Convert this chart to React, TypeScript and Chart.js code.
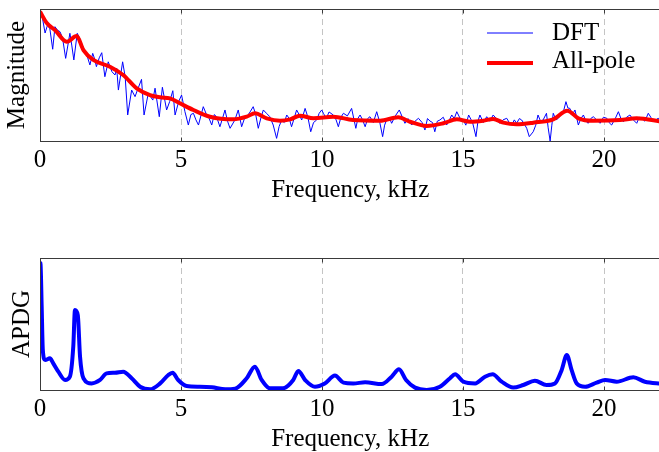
import { useEffect, useRef } from "react";
import { Chart, registerables } from "chart.js";

Chart.register(...registerables);

const xTicks = [0, 5, 10, 15, 20];
const xMin = 0;
const xMax = 22;

// DFT magnitude (arbitrary units, 0..100)
const dftFreq = [
  0.0, 0.08, 0.18, 0.27, 0.35, 0.45, 0.53, 0.62, 0.71, 0.8, 0.91, 1.06, 1.13, 1.2, 1.32, 1.4, 1.52, 1.66, 1.77, 1.87,
  1.94, 2.0, 2.1, 2.19, 2.3, 2.42, 2.55, 2.66, 2.72, 2.78, 2.93, 3.02, 3.11, 3.25, 3.37, 3.48, 3.6, 3.69, 3.84, 4.0,
  4.08, 4.23, 4.34, 4.49, 4.6, 4.71, 4.79, 4.92, 5.02, 5.14, 5.26, 5.35, 5.44, 5.53, 5.62, 5.79, 5.91, 6.0, 6.09, 6.18,
  6.26, 6.38, 6.47, 6.56, 6.65, 6.74, 6.91, 7.03, 7.15, 7.25, 7.33, 7.45, 7.56, 7.65, 7.74, 7.84, 7.92, 8.03, 8.15, 8.27,
  8.39, 8.48, 8.57, 8.66, 8.75, 8.84, 8.92, 9.01, 9.1, 9.19, 9.28, 9.4, 9.5, 9.6, 9.7, 9.81, 9.9, 9.99, 10.05, 10.15,
  10.25, 10.4, 10.5, 10.58, 10.67, 10.76, 10.9, 11.05, 11.2, 11.27, 11.35, 11.44, 11.53, 11.62, 11.7, 11.82, 11.94, 12.05, 12.15, 12.22,
  12.29, 12.38, 12.47, 12.6, 12.74, 12.85, 12.94, 13.05, 13.18, 13.3, 13.42, 13.55, 13.65, 13.74, 13.83, 13.92, 14.0, 14.09, 14.18, 14.3,
  14.42, 14.52, 14.6, 14.69, 14.78, 14.9, 15.01, 15.1, 15.2, 15.34, 15.46, 15.53, 15.6, 15.72, 15.84, 15.95, 16.07, 16.18, 16.3, 16.42,
  16.55, 16.64, 16.73, 16.82, 16.9, 17.0, 17.08, 17.17, 17.26, 17.35, 17.49, 17.58, 17.66, 17.75, 17.84, 17.96, 18.02, 18.09, 18.15, 18.2,
  18.3, 18.38, 18.48, 18.56, 18.65, 18.72, 18.79, 18.88, 18.97, 19.09, 19.18, 19.27, 19.36, 19.44, 19.53, 19.62, 19.74, 19.86, 19.98, 20.1,
  20.18, 20.27, 20.4, 20.51, 20.6, 20.69, 20.8, 20.92, 21.04, 21.16, 21.25, 21.33, 21.45, 21.57, 21.66, 21.74, 21.84, 21.92, 22.05,
];
const dftMag = [
  99, 94, 81.8, 88, 85, 69.5, 86.6, 84, 82.8, 78, 62.6, 81.6, 72, 61.4, 81.6, 78, 71.4, 65.2, 57.6, 66.4,
  62, 56.3, 63, 66.9, 48.7, 60, 52.5, 50, 55, 38.6, 60, 48.7, 19.7, 38.6, 33.6, 40, 46.7, 19.7, 36.1, 31,
  40, 18.4, 40.7, 23.5, 30, 38.1, 19.7, 30, 34.8, 22.2, 12.1, 20, 21, 16, 12.1, 26, 19.7, 17, 12.1, 20,
  18.4, 10.8, 17, 23.5, 15, 9.6, 15.9, 23.5, 10.8, 17, 18.4, 22, 26, 20, 9.6, 18, 23.5, 21, 18.4, 12.1,
  2, 11, 15.9, 14, 19.7, 17, 10.8, 17, 23.5, 20, 15.9, 24.7, 18, 7, 14, 15.9, 21, 23.5, 21, 17,
  22, 19.7, 16, 10.8, 18, 21, 19, 24.7, 9.6, 17, 19.7, 16, 10.8, 17, 18.4, 14, 22.2, 14, 3.3, 12,
  15.9, 18, 13.4, 19, 23.5, 18, 13.4, 17, 12.1, 15, 17.2, 14, 8.3, 17, 15.1, 14, 7, 15, 15.9, 18,
  12.1, 16, 19.7, 17, 22.2, 17, 15.9, 12, 19.7, 14, 3.3, 15, 19.7, 14, 18.4, 15, 19.7, 17, 13.4, 16,
  17.2, 14, 12.1, 16, 13.4, 17, 15.9, 13, 9.6, 3.3, 7, 12, 19.7, 15, 15.9, 21, 10, 0, 12, 21,
  16, 17.2, 20, 22.2, 29.8, 25, 24.7, 20, 23.5, 12.1, 17, 19.7, 15, 13.4, 17, 18.4, 16, 13.4, 18, 17.2,
  14, 12.1, 17, 22.2, 17, 14.6, 18, 19.7, 16, 13.4, 18, 17.2, 15, 21, 18, 14.6, 16, 17.2, 15,
];

// All-pole envelope
const poleFreq = [
  0, 0.24, 0.53, 0.95, 1.3, 1.54, 1.89, 2.48, 2.95, 3.43, 3.9, 4.26, 4.61, 4.96, 5.44, 6.03, 6.85, 7.33, 7.62, 8.04,
  8.51, 8.87, 9.22, 9.7, 10.4, 11.1, 12.06, 12.7, 13.12, 13.71, 14.3, 14.78, 15.25, 15.72, 16.07, 16.43, 16.9, 17.49, 18.2, 18.7,
  19.09, 19.62, 20.57, 21.16, 22.05,
];
const poleMag = [
  98, 89.4, 84.1, 75.2, 79.5, 68.9, 61.4, 56.3, 50, 39.9, 34.8, 33.1, 32.3, 28.6, 23.5, 18.4, 16.4, 18.4, 21, 17.2,
  15.4, 16.4, 19.2, 17.2, 18.4, 15.9, 15.4, 18, 14.6, 11.4, 13.4, 16.4, 14.6, 15.4, 16.7, 13.9, 12.7, 13.9, 16.4, 23,
  17.2, 15.4, 15.9, 17.2, 14.6,
];

// APDG
const apdgFreq = [
  0, 0.02, 0.06, 0.1, 0.18, 0.35, 0.47, 0.65, 0.89, 1.06, 1.18, 1.24, 1.34, 1.42, 1.54, 1.83, 2.13, 2.36, 2.66, 2.95,
  3.25, 3.55, 3.9, 4.26, 4.55, 4.7, 4.9, 5.2, 5.67, 6.1, 6.57, 6.92, 7.33, 7.62, 7.86, 8.15, 8.62, 8.98, 9.16, 9.4,
  9.75, 10.1, 10.46, 10.76, 11.11, 11.53, 12.12, 12.47, 12.73, 12.98, 13.3, 13.71, 14.18, 14.54, 14.72, 15.01, 15.43, 15.78, 16.05, 16.37,
  16.78, 17.14, 17.55, 17.96, 18.26, 18.5, 18.68, 18.85, 19.03, 19.33, 19.74, 20.04, 20.45, 21.04, 21.45, 22.05,
];
const apdgVal = [
  97, 95, 63, 30.3, 22.7, 24, 20.2, 13.9, 7.6, 10.1, 32.8, 60.6, 56.8, 25.2, 8.9, 5, 7.6, 12.6, 13.1, 13.9,
  8.9, 2.5, 0.5, 5, 11.4, 13.1, 7.6, 3, 2.5, 2, 0.5, 1, 8.9, 17.7, 7.6, 1.3, 1.3, 7.6, 14.4, 7.6,
  2.5, 5, 10.9, 5.6, 5, 5.8, 4.5, 10.1, 15.7, 7.6, 1.8, 0, 2.5, 8.9, 11.9, 6.3, 5, 10.1, 11.9, 6.3,
  1.8, 3.8, 7, 3.8, 5, 15.2, 26.5, 15.2, 5, 2.5, 5.6, 7.6, 6.3, 9.6, 6.3, 4.8,
];

const FONT = '"Liberation Serif", "Times New Roman", serif';
const FSIZE = 25;
Chart.defaults.font.family = FONT;
Chart.defaults.font.size = FSIZE;
Chart.defaults.color = "#000";

const pts = (xs: number[], ys: number[]) => xs.map((x, i) => ({ x, y: ys[i] }));

const framePlugin = {
  id: "frame",
  afterDraw(chart: any) {
    const { ctx, chartArea: a, scales } = chart;
    const l = Math.round(a.left) + 0.5;
    const t = Math.round(a.top) + 0.5;
    const r = Math.round(a.right) + 0.5;
    const b = Math.round(a.bottom) + 0.5;
    ctx.save();
    ctx.strokeStyle = "#3a3a3a";
    ctx.lineWidth = 1;
    ctx.strokeRect(l, t, r - l, b - t);
    const xs = scales.x;
    ctx.beginPath();
    xs.ticks.forEach((tk: any) => {
      const p = Math.round(xs.getPixelForValue(tk.value)) + 0.5;
      ctx.moveTo(p, b);
      ctx.lineTo(p, b - 4);
      ctx.moveTo(p, t);
      ctx.lineTo(p, t + 4);
    });
    ctx.stroke();
    ctx.restore();
  },
};

const legendPlugin = {
  id: "customLegend",
  afterDraw(chart: any) {
    const { ctx } = chart;
    const ds = chart.data.datasets;
    const rows = [
      { d: ds[0], y: 40, ly: 33 },
      { d: ds[1], y: 68, ly: 63 },
    ];
    ctx.save();
    rows.forEach((row) => {
      ctx.strokeStyle = row.d.borderColor;
      ctx.lineWidth = row.d.borderWidth;
      ctx.beginPath();
      ctx.moveTo(487, row.ly);
      ctx.lineTo(533, row.ly);
      ctx.stroke();
      ctx.fillStyle = "#000";
      ctx.font = `${FSIZE}px ${FONT}`;
      ctx.textBaseline = "alphabetic";
      ctx.textAlign = "left";
      ctx.fillText(row.d.label, 552, row.y);
    });
    ctx.restore();
  },
};

function baseOptions(yTitle: string, yTitlePad: number): any {
  return {
    animation: false,
    responsive: false,
    maintainAspectRatio: false,
    layout: { padding: { left: 0, right: 9.6, top: 9, bottom: 0 } },
    plugins: { legend: { display: false }, tooltip: { enabled: false } },
    elements: { point: { radius: 0 } },
    scales: {
      x: {
        type: "linear",
        min: xMin,
        max: xMax,
        afterBuildTicks: (s: any) => {
          s.ticks = xTicks.map((v) => ({ value: v }));
        },
        afterFit: (s: any) => {
          s.height = 74;
        },
        ticks: {
          color: "#000",
          padding: 4,
          maxRotation: 0,
          autoSkip: false,
          font: { size: FSIZE },
          callback: (v: any) => String(v),
        },
        grid: { color: "#c4c4c4", lineWidth: 1, drawTicks: false },
        border: { display: false, dash: [6, 4] },
        title: {
          display: true,
          text: "Frequency, kHz",
          color: "#000",
          font: { size: FSIZE },
          padding: { top: 0, bottom: 9.4 },
        },
      },
      y: {
        min: 0,
        max: 100,
        afterFit: (s: any) => {
          s.width = 40;
        },
        ticks: { display: false },
        grid: { display: false },
        border: { display: false },
        title: {
          display: true,
          text: yTitle,
          color: "#000",
          font: { size: FSIZE },
          padding: { top: yTitlePad, bottom: 0 },
        },
      },
    },
  };
}

export default function App() {
  const topRef = useRef<HTMLCanvasElement>(null);
  const botRef = useRef<HTMLCanvasElement>(null);

  useEffect(() => {
    const c1 = new Chart(topRef.current as HTMLCanvasElement, {
      type: "line",
      data: {
        datasets: [
          {
            label: "DFT",
            data: pts(dftFreq, dftMag),
            borderColor: "#0000ff",
            borderWidth: 1,
            tension: 0,
            order: 2,
          },
          {
            label: "All-pole",
            data: pts(poleFreq, poleMag),
            borderColor: "#ff0000",
            borderWidth: 4,
            cubicInterpolationMode: "monotone",
            order: 1,
          },
        ],
      } as any,
      options: baseOptions("Magnitude", 2.6),
      plugins: [framePlugin, legendPlugin],
    });
    const c2 = new Chart(botRef.current as HTMLCanvasElement, {
      type: "line",
      data: {
        datasets: [
          {
            label: "APDG",
            data: pts(apdgFreq, apdgVal),
            borderColor: "#0000ff",
            borderWidth: 4,
            cubicInterpolationMode: "monotone",
          },
        ],
      } as any,
      options: baseOptions("APDG", 7.6),
      plugins: [framePlugin],
    });
    return () => {
      c1.destroy();
      c2.destroy();
    };
  }, []);

  return (
    <div style={{ position: "fixed", left: 0, top: 0, width: 670, height: 470, background: "#fff", overflow: "hidden" }}>
      <canvas ref={topRef} width={670} height={215} style={{ position: "absolute", left: 0, top: 0 }} />
      <canvas ref={botRef} width={670} height={215} style={{ position: "absolute", left: 0, top: 249 }} />
    </div>
  );
}
